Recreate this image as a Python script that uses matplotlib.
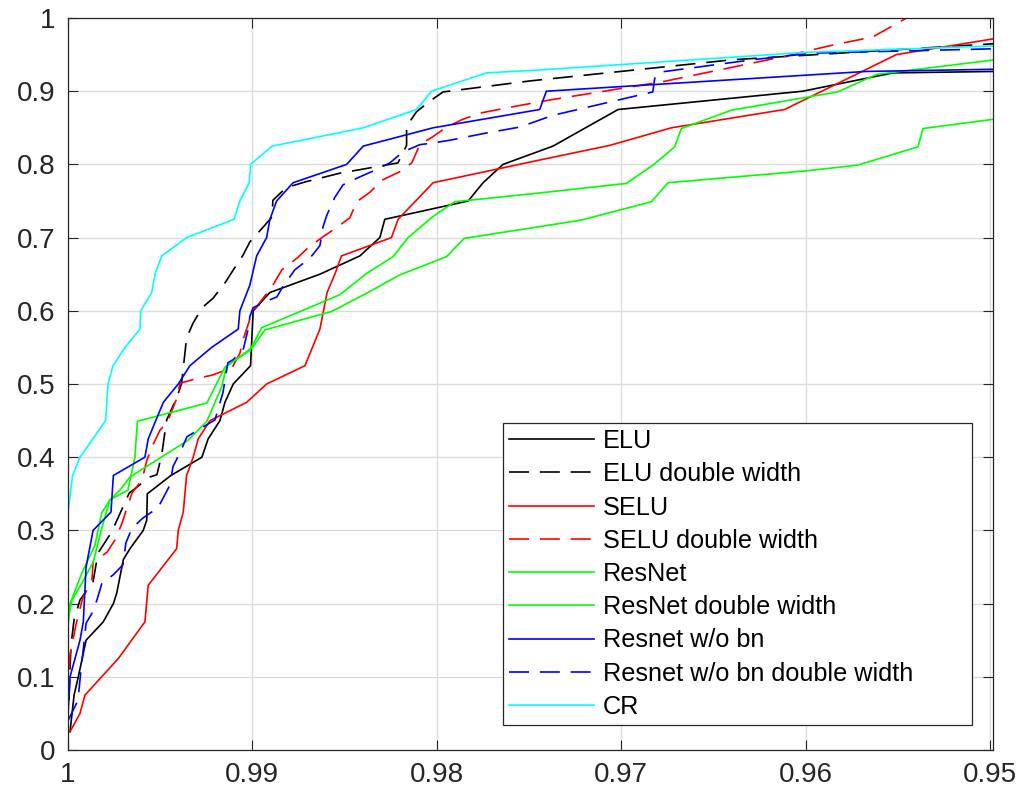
import matplotlib
matplotlib.use("Agg")
import matplotlib.pyplot as plt

# ---------------- data ----------------
ELU_x = [0.99989, 0.99967, 0.99944, 0.99902, 0.99809, 0.99754, 0.99736, 0.99700, 0.99664,
         0.99592, 0.99573, 0.99570, 0.99442, 0.99274, 0.99240, 0.99176, 0.99149, 0.99104,
         0.99010, 0.98996, 0.98905, 0.98634, 0.98417, 0.98309, 0.98282, 0.97830, 0.97749,
         0.97641, 0.97370, 0.97017, 0.96015, 0.95527, 0.94970]
ELU_y = [0.025, 0.075, 0.100, 0.150, 0.175, 0.200, 0.214, 0.260, 0.275, 0.300, 0.314, 0.350,
         0.375, 0.400, 0.425, 0.450, 0.475, 0.500, 0.525, 0.600, 0.625, 0.650, 0.675, 0.700,
         0.725, 0.750, 0.775, 0.800, 0.825, 0.875, 0.900, 0.925, 0.927]

ELU2_x = [0.99995, 0.99984, 0.99967, 0.99935, 0.99864, 0.99837, 0.99763, 0.99668, 0.99556,
          0.99518, 0.99492, 0.99465, 0.99409, 0.99384, 0.99357, 0.99322, 0.99274, 0.99214,
          0.99149, 0.99111, 0.99051, 0.99014, 0.98943, 0.98894, 0.98889, 0.98818, 0.98715,
          0.98526, 0.98211, 0.98164, 0.98164, 0.98110, 0.98029, 0.97966, 0.97496, 0.96396,
          0.94970]
ELU2_y = [0.068, 0.143, 0.178, 0.205, 0.230, 0.269, 0.298, 0.351, 0.373, 0.376, 0.403, 0.451,
          0.482, 0.501, 0.563, 0.583, 0.604, 0.617, 0.638, 0.653, 0.676, 0.694, 0.714, 0.728,
          0.751, 0.768, 0.776, 0.788, 0.802, 0.826, 0.852, 0.872, 0.888, 0.899, 0.914, 0.943,
          0.965]

SELU_x = [0.99989, 0.99935, 0.99908, 0.99727, 0.99583, 0.99565, 0.99411, 0.99402, 0.99375,
          0.99357, 0.99321, 0.99294, 0.99230, 0.99031, 0.98923, 0.98715, 0.98634, 0.98595,
          0.98553, 0.98517, 0.98246, 0.98210, 0.98020, 0.97442, 0.97062, 0.96728, 0.96114,
          0.95508, 0.94970]
SELU_y = [0.025, 0.050, 0.075, 0.125, 0.175, 0.225, 0.275, 0.300, 0.325, 0.375, 0.400, 0.425,
          0.450, 0.475, 0.500, 0.525, 0.575, 0.625, 0.650, 0.675, 0.700, 0.725, 0.775, 0.806,
          0.826, 0.850, 0.875, 0.950, 0.972]

SELU2_x = [1.00000, 0.99989, 0.99957, 0.99919, 0.99870, 0.99864, 0.99789, 0.99745, 0.99707,
           0.99680, 0.99653, 0.99599, 0.99572, 0.99545, 0.99501, 0.99463, 0.99409, 0.99393,
           0.99295, 0.99220, 0.99111, 0.99068, 0.99051, 0.99003, 0.98949, 0.98894, 0.98840,
           0.98753, 0.98699, 0.98618, 0.98542, 0.98472, 0.98434, 0.98363, 0.98293, 0.98201,
           0.98136, 0.98092, 0.98027, 0.97946, 0.97865, 0.97767, 0.97604, 0.97388, 0.96775,
           0.96125, 0.95854, 0.95637, 0.95453, 0.95300]
SELU2_y = [0.068, 0.130, 0.171, 0.209, 0.232, 0.257, 0.270, 0.287, 0.310, 0.331, 0.351, 0.369,
           0.396, 0.414, 0.437, 0.447, 0.481, 0.501, 0.508, 0.512, 0.522, 0.542, 0.560, 0.597,
           0.615, 0.633, 0.656, 0.673, 0.686, 0.701, 0.714, 0.727, 0.749, 0.762, 0.779, 0.790,
           0.802, 0.827, 0.837, 0.851, 0.861, 0.870, 0.878, 0.888, 0.913, 0.947, 0.963, 0.974,
           1.000, 1.020]

RES_x = [1.00000, 0.99989, 0.99924, 0.99854, 0.99817, 0.99772, 0.99675, 0.99637, 0.99624,
         0.99247, 0.99149, 0.99014, 0.98949, 0.98526, 0.98381, 0.98237, 0.98156, 0.98020,
         0.97902, 0.97442, 0.96972, 0.96828, 0.96710, 0.96674, 0.96403, 0.95827, 0.95615,
         0.94970]
RES_y = [0.168, 0.200, 0.242, 0.280, 0.324, 0.342, 0.355, 0.400, 0.449, 0.474, 0.523, 0.546,
         0.577, 0.622, 0.651, 0.674, 0.700, 0.729, 0.749, 0.761, 0.774, 0.799, 0.824, 0.849,
         0.874, 0.899, 0.923, 0.943]

RES2_x = [1.00000, 0.99978, 0.99924, 0.99863, 0.99817, 0.99772, 0.99718, 0.99664, 0.99350,
          0.99247, 0.99167, 0.99140, 0.98996, 0.98932, 0.98571, 0.98381, 0.98201, 0.97947,
          0.97851, 0.97442, 0.97216, 0.96836, 0.96746, 0.96005, 0.95717, 0.95391, 0.95364,
          0.94970]
RES2_y = [0.178, 0.205, 0.228, 0.257, 0.303, 0.342, 0.355, 0.373, 0.423, 0.449, 0.496, 0.524,
          0.551, 0.574, 0.599, 0.624, 0.649, 0.674, 0.699, 0.715, 0.724, 0.749, 0.775, 0.791,
          0.799, 0.824, 0.849, 0.862]

NOBN_x = [1.00000, 0.99989, 0.99935, 0.99917, 0.99902, 0.99864, 0.99767, 0.99754, 0.99583,
          0.99565, 0.99483, 0.99402, 0.99339, 0.99221, 0.99077, 0.99068, 0.99014, 0.98977,
          0.98923, 0.98905, 0.98869, 0.98779, 0.98489, 0.98399, 0.98020, 0.97442, 0.97406,
          0.95671, 0.94970]
NOBN_y = [0.048, 0.100, 0.150, 0.175, 0.250, 0.300, 0.325, 0.375, 0.400, 0.425, 0.475, 0.500,
          0.525, 0.550, 0.575, 0.600, 0.635, 0.675, 0.700, 0.725, 0.750, 0.775, 0.800, 0.825,
          0.850, 0.875, 0.900, 0.927, 0.930]

NOBN2_x = [1.00000, 0.99946, 0.99935, 0.99902, 0.99870, 0.99843, 0.99816, 0.99756, 0.99702,
           0.99686, 0.99653, 0.99593, 0.99512, 0.99447, 0.99431, 0.99393, 0.99355, 0.99203,
           0.99160, 0.99133, 0.99106, 0.99051, 0.99024, 0.99014, 0.98997, 0.98943, 0.98867,
           0.98835, 0.98770, 0.98688, 0.98634, 0.98618, 0.98596, 0.98553, 0.98509, 0.98417,
           0.98336, 0.98255, 0.98184, 0.98092, 0.98027, 0.97930, 0.97729, 0.97550, 0.97371,
           0.96829, 0.96818, 0.96791, 0.96287, 0.95962, 0.94970]
NOBN2_y = [0.040, 0.068, 0.096, 0.173, 0.187, 0.205, 0.228, 0.239, 0.253, 0.283, 0.303, 0.317,
           0.331, 0.362, 0.387, 0.406, 0.428, 0.451, 0.488, 0.529, 0.533, 0.546, 0.574, 0.592,
           0.604, 0.611, 0.619, 0.633, 0.656, 0.672, 0.689, 0.714, 0.731, 0.755, 0.772, 0.783,
           0.792, 0.802, 0.817, 0.827, 0.829, 0.833, 0.843, 0.851, 0.867, 0.899, 0.918, 0.926,
           0.943, 0.952, 0.958]

CR_x = [1.00000, 1.00000, 0.99975, 0.99935, 0.99796, 0.99783, 0.99756, 0.99691, 0.99610,
        0.99606, 0.99546, 0.99528, 0.99492, 0.99357, 0.99100, 0.99068, 0.99017, 0.99010,
        0.98893, 0.98634, 0.98399, 0.98110, 0.98029, 0.97731, 0.97442, 0.96005, 0.94970]
CR_y = [0.025, 0.325, 0.375, 0.400, 0.450, 0.500, 0.525, 0.550, 0.575, 0.600, 0.625, 0.650,
        0.675, 0.700, 0.725, 0.750, 0.775, 0.800, 0.825, 0.838, 0.850, 0.875, 0.900, 0.925,
        0.929, 0.953, 0.962]

labels = ["ELU", "ELU double width", "SELU", "SELU double width", "ResNet",
          "ResNet double width", "Resnet w/o bn", "Resnet w/o bn double width", "CR"]
x_ticks = [1.0, 0.99, 0.98, 0.97, 0.96, 0.95]
x_tick_labels = ["1", "0.99", "0.98", "0.97", "0.96", "0.95"]
y_ticks = [0.0, 0.1, 0.2, 0.3, 0.4, 0.5, 0.6, 0.7, 0.8, 0.9, 1.0]
y_tick_labels = ["0", "0.1", "0.2", "0.3", "0.4", "0.5", "0.6", "0.7", "0.8", "0.9", "1"]

# ---------------- style ----------------
plt.rcParams["font.family"] = ["Liberation Sans", "DejaVu Sans"]
DASH = (0, (12, 6.5))
series = [
    (ELU_x, ELU_y, "k", "-"),
    (ELU2_x, ELU2_y, "k", DASH),
    (SELU_x, SELU_y, "#ff0000", "-"),
    (SELU2_x, SELU2_y, "#ff0000", DASH),
    (RES_x, RES_y, "#00ff00", "-"),
    (RES2_x, RES2_y, "#00ff00", "-"),
    (NOBN_x, NOBN_y, "#0000ff", "-"),
    (NOBN2_x, NOBN2_y, "#0000ff", DASH),
    (CR_x, CR_y, "#00ffff", "-"),
]

fig = plt.figure(figsize=(10.16, 7.95), dpi=100)
ax = fig.add_axes([68 / 1016, 45 / 795, 925 / 1016, 732 / 795])

for (xs, ys, c, ls), lab in zip(series, labels):
    ax.plot(xs, ys, color=c, linestyle=ls, linewidth=1.2, label=lab)

ax.set_xlim(1.0, 0.94984)
ax.set_ylim(0, 1)
ax.set_xticks(x_ticks)
ax.set_xticklabels(x_tick_labels)
ax.set_yticks(y_ticks)
ax.set_yticklabels(y_tick_labels)
ax.grid(True, color="#dcdcdc", linewidth=1.0)
ax.set_axisbelow(True)
ax.tick_params(direction="in", length=7, width=0.8, top=True, right=True,
               colors="#262626", labelsize=20)
ax.tick_params(axis="x", pad=9)
ax.tick_params(axis="y", pad=9)
for s in ax.spines.values():
    s.set_color("#262626")
    s.set_linewidth(0.9)

# legend box spans x 503..972 px and y 423..725 px in the reference
leg = ax.legend(loc="lower left", bbox_to_anchor=(0.4703, 0.0342, 0.507, 0.41),
                mode="expand", borderaxespad=0,
                fontsize=18.2, handlelength=3.35, handletextpad=0.35, labelspacing=0.365,
                frameon=True, fancybox=False, framealpha=1, borderpad=0.24)
leg.get_frame().set_edgecolor("#262626")
leg.get_frame().set_linewidth(0.9)

fig.savefig("out.png", dpi=100)
